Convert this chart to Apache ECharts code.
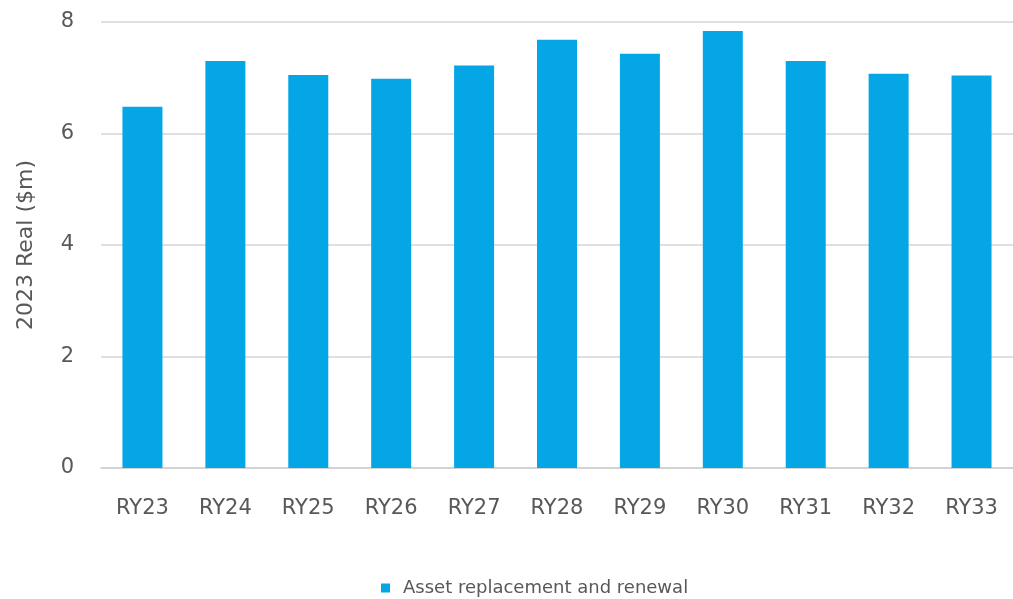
<!DOCTYPE html>
<html>
<head>
<meta charset="utf-8">
<style>
  html, body { margin: 0; padding: 0; background: #ffffff; }
  #chart { width: 1013px; height: 599px; }
</style>
<script src="https://cdn.jsdelivr.net/npm/echarts@6/dist/echarts.min.js"></script>
</head>
<body>
<div id="chart"></div>
<script>
// Regulatory years on the category axis
const categories = ['RY23', 'RY24', 'RY25', 'RY26', 'RY27', 'RY28', 'RY29', 'RY30', 'RY31', 'RY32', 'RY33'];
// Asset replacement and renewal expenditure, 2023 real $m
const renewalValues = [6.48, 7.30, 7.05, 6.98, 7.22, 7.68, 7.43, 7.84, 7.30, 7.07, 7.04];
const seriesName = 'Asset replacement and renewal';
const yAxisTitle = '2023 Real ($m)';

const textColor = '#585858';
const fontFamily = '"DejaVu Sans", "Noto Sans", sans-serif';

const chart = echarts.init(document.getElementById('chart'), null, { renderer: 'canvas' });

chart.setOption({
  backgroundColor: '#ffffff',
  animation: false,
  grid: { left: 101, right: 0, top: 22, bottom: 131, containLabel: false },
  legend: {
    data: [seriesName],
    left: 376,
    top: 574,
    icon: 'rect',
    itemWidth: 9,
    itemHeight: 9,
    textStyle: { color: textColor, fontSize: 18, fontFamily: fontFamily, padding: [0, 0, 0, 8] }
  },
  xAxis: {
    type: 'category',
    data: categories,
    axisLine: { show: true, lineStyle: { color: '#cfcfcf', width: 1.5 } },
    axisTick: { show: false },
    axisLabel: { color: textColor, fontSize: 21, fontFamily: fontFamily, margin: 30 }
  },
  yAxis: {
    type: 'value',
    min: 0,
    max: 8,
    interval: 2,
    name: yAxisTitle,
    nameLocation: 'middle',
    nameGap: 64,
    nameTextStyle: { color: textColor, fontSize: 22, fontFamily: fontFamily },
    axisLine: { show: false },
    axisTick: { show: false },
    axisLabel: { color: textColor, fontSize: 21, fontFamily: fontFamily, margin: 27 },
    splitLine: { lineStyle: { color: '#d4d4d4', width: 1.5 } }
  },
  series: [{
    name: seriesName,
    type: 'bar',
    data: renewalValues,
    barWidth: 40,
    itemStyle: { color: '#05a6e6' }
  }]
});
</script>
</body>
</html>
